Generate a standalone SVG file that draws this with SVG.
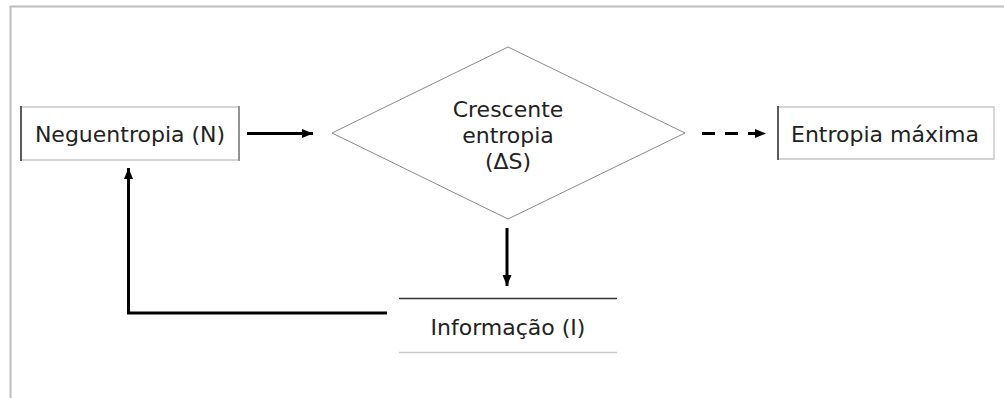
<svg xmlns="http://www.w3.org/2000/svg" width="1004" height="398" viewBox="0 0 1004 398">
  <style>
    .lbl { font-family: "DejaVu Sans", Verdana, sans-serif; font-size: 22px; fill: #222; text-anchor: middle; }
    .light { stroke: #c8c8c8; stroke-width: 1.5; fill: none; }
    .dark { stroke: #333; stroke-width: 1.5; fill: none; }
    .conn { stroke: #000; stroke-width: 3; fill: none; }
  </style>
  <defs>
    <marker id="ah" markerUnits="userSpaceOnUse" markerWidth="12" markerHeight="12" viewBox="0 0 12 12" refX="11" refY="6" orient="auto">
      <path d="M0,1.5 L11,6 L0,10.5 Z" fill="#000"/>
    </marker>
  </defs>
  <rect width="1004" height="398" fill="#fff"/>
  <g id="frame">
    <path d="M10.5,398 L10.5,6.5 L1004,6.5" stroke="#bdbdbd" stroke-width="2" fill="none"/>
  </g>
  <g id="connectors">
    <line class="conn" x1="247" y1="133.5" x2="313" y2="133.5" marker-end="url(#ah)"/>
    <line class="conn" x1="702" y1="133.5" x2="766" y2="133.5" stroke-dasharray="13 10" marker-end="url(#ah)"/>
    <line class="conn" x1="507" y1="228" x2="507" y2="286" marker-end="url(#ah)"/>
    <polyline class="conn" points="387,313 128.5,313 128.5,168" marker-end="url(#ah)"/>
  </g>
  <g id="node-neguentropia">
    <rect class="light" x="21" y="107" width="218" height="53"/>
    <line class="dark" x1="21" y1="106" x2="21" y2="161"/>
    <line stroke="#666" stroke-width="1.2" x1="239" y1="106" x2="239" y2="161"/>
    <text class="lbl" x="130" y="141.5">Neguentropia (N)</text>
  </g>
  <g id="node-crescente">
    <polygon points="508,47 685,133 508,219 332,133" fill="none" stroke="#8a8a8a" stroke-width="1"/>
    <text class="lbl" x="508" y="117">Crescente</text>
    <text class="lbl" x="508" y="143">entropia</text>
    <text class="lbl" x="508" y="169">(ΔS)</text>
  </g>
  <g id="node-entropia-maxima">
    <rect class="light" x="778" y="107" width="216" height="52"/>
    <line class="dark" x1="778" y1="106" x2="778" y2="160"/>
    <text class="lbl" x="885" y="141.5">Entropia máxima</text>
  </g>
  <g id="node-informacao">
    <line class="dark" x1="399" y1="298.5" x2="617" y2="298.5"/>
    <line class="light" x1="399" y1="352.5" x2="617" y2="352.5"/>
    <text class="lbl" x="508" y="335">Informação (I)</text>
  </g>
</svg>
